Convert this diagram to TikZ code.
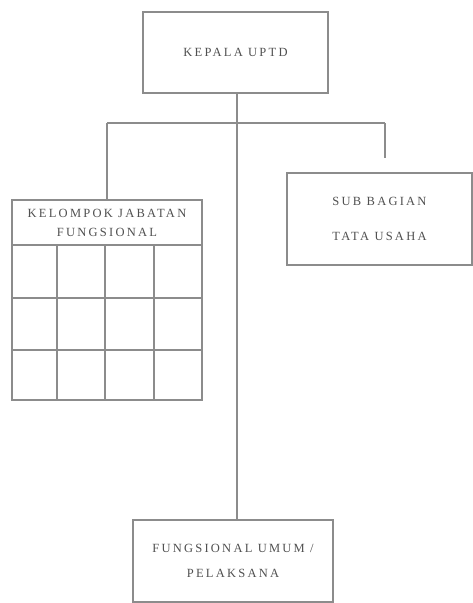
\documentclass[tikz,border=0pt]{standalone}
\usepackage{fontspec}
\setmainfont{Liberation Serif}
\newfontfamily\orgfont[LetterSpace=18]{Liberation Serif}
\definecolor{linegray}{HTML}{8C8C8C}
\definecolor{textgray}{HTML}{505050}
\begin{document}
\begin{tikzpicture}[x=1pt,y=-1pt,
  orgbox/.style={draw=linegray,line width=1.3pt,rectangle,inner sep=0pt,
    font=\orgfont\fontsize{12.5}{14}\selectfont,text=textgray,align=center},
  link/.style={draw=linegray,line width=1.1pt},
  gridline/.style={draw=linegray,line width=1.3pt}]
\useasboundingbox (0,0) rectangle (473,603);
\fill[white] (0,0) rectangle (473,603);

% boxes
\node[orgbox,minimum width=185pt,minimum height=81pt] (kepala) at (235.5,52.5) {KEPALA UPTD};
\node[orgbox,minimum width=185pt,minimum height=92pt] (sub) at (379.5,219)
  {SUB BAGIAN\\[21pt]TATA USAHA};
\node[font=\orgfont\fontsize{12.5}{19}\selectfont,text=textgray,align=center] (kjftitle) at (107,223)
  {KELOMPOK JABATAN\\FUNGSIONAL};
\node[orgbox,minimum width=190pt,minimum height=200pt] (kjf) at (107,300) {};
\node[orgbox,minimum width=200pt,minimum height=82pt] (fu) at (233,561)
  {FUNGSIONAL UMUM /\\[11pt]PELAKSANA};

% grid inside the functional group box
\draw[gridline] (12,245) -- (202,245);
\draw[gridline] (12,298) -- (202,298);
\draw[gridline] (12,350) -- (202,350);
\draw[gridline] (57,245) -- (57,400);
\draw[gridline] (105,245) -- (105,400);
\draw[gridline] (154,245) -- (154,400);

% connectors
\coordinate (bus) at (237,123);
\coordinate (busL) at (107,123);
\coordinate (busR) at (385,123);
\coordinate (subtop) at (385,158);
\draw[link] (kepala.south -| bus) -- (fu.north -| bus);
\draw[link] (busL) -- (busR);
\draw[link] (busL) -- (kjf.north -| busL);
\draw[link] (busR) -- (subtop);
\end{tikzpicture}
\end{document}
